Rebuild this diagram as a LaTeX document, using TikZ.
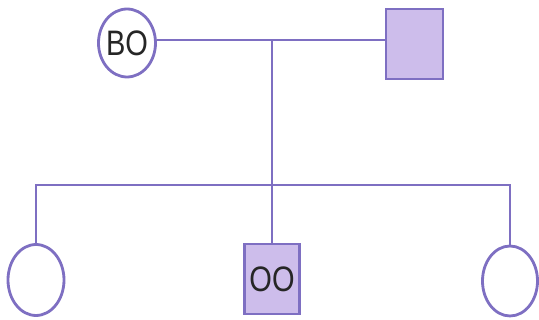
\documentclass[tikz,border=0pt]{standalone}
\usepackage{fontspec}
\setmainfont{Liberation Sans}
\usetikzlibrary{shapes.geometric}
\definecolor{pline}{HTML}{7E6FC2}
\definecolor{pfill}{HTML}{CDBDEB}
\tikzset{
  lin/.style={draw=pline,line width=2.8pt},
  fem/.style={ellipse,draw=pline,line width=2.8pt,fill=white,inner sep=0pt},
  mal/.style={rectangle,draw=pline,line width=2.8pt,fill=pfill,inner sep=0pt},
  lbl/.style={font=\fontsize{29}{30}\selectfont,text=black!85}
}
\begin{document}
\begin{tikzpicture}[x=1pt,y=-1pt]
\useasboundingbox (0,0) rectangle (539,320);
\node[fem,minimum width=57pt,minimum height=68pt] (mom) at (127,43) {};
\node[lbl] at (mom) {\scalebox{1}[1.22]{BO}};
\node[mal,minimum width=57pt,minimum height=70pt] (dad) at (414.5,44) {};
\node[fem,minimum width=56pt,minimum height=71pt] (d1) at (36,280) {};
\node[mal,minimum width=55pt,minimum height=70pt] (s1) at (272,279) {};
\node[lbl] at (s1) {\scalebox{1}[1.22]{OO}};
\node[fem,minimum width=55pt,minimum height=70pt] (d2) at (510,281) {};
\coordinate (m) at (272,40);
\coordinate (j) at (272,185);
\draw[lin] (mom.east |- m) -- (dad.west |- m);
\draw[lin] (m) -- (j) -- (s1.north);
\draw[lin] (d1.north) |- (j);
\draw[lin] (d2.north) |- (j);
\end{tikzpicture}
\end{document}
